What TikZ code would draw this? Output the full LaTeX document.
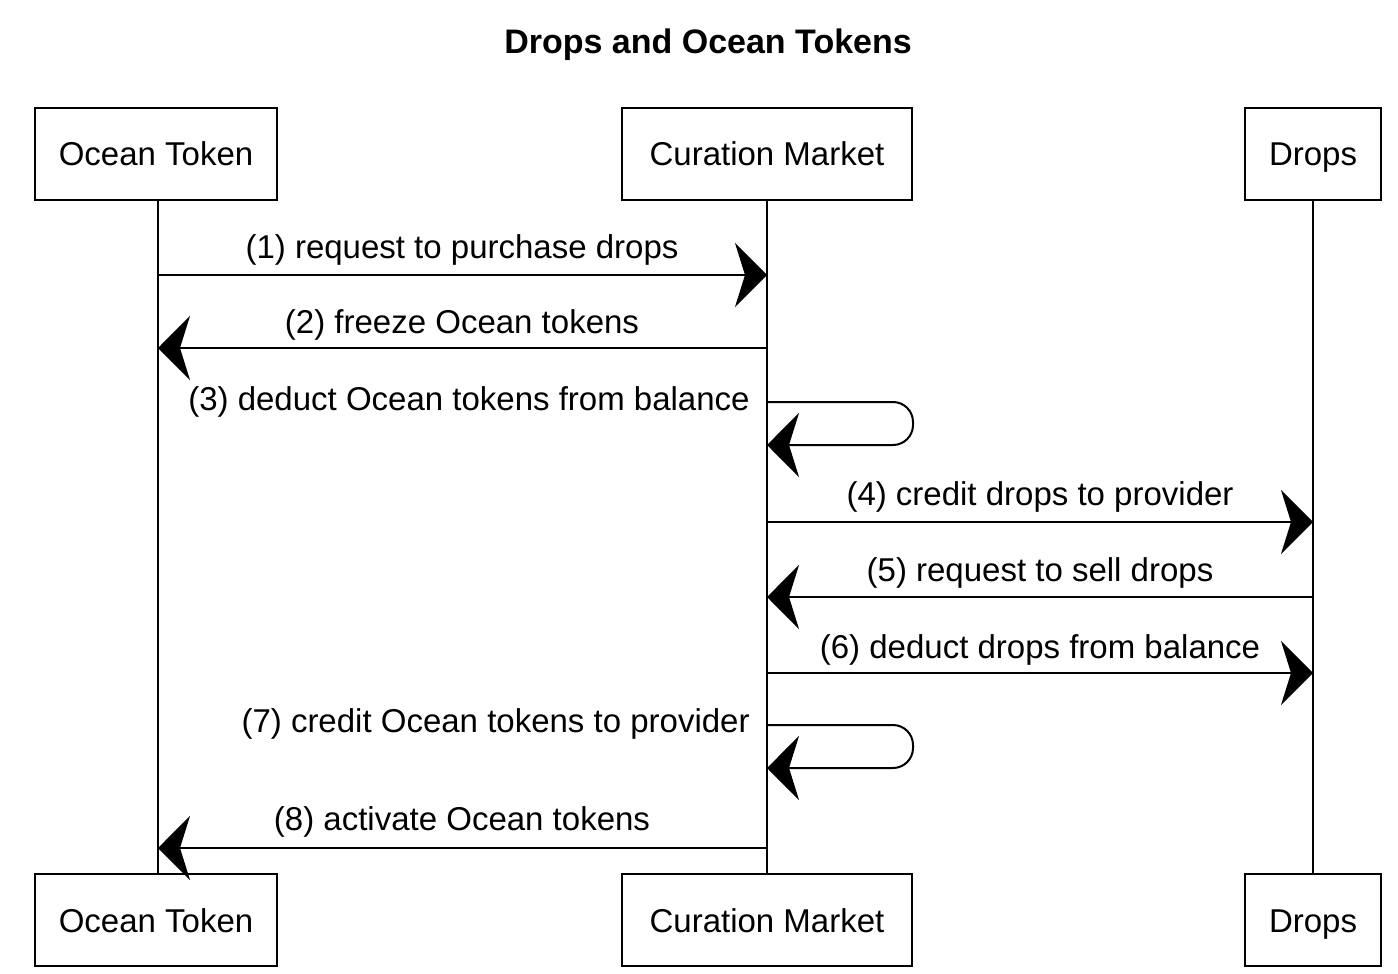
\documentclass[tikz,border=0pt]{standalone}
\usepackage{fontspec}
\setmainfont{Liberation Sans}
\usetikzlibrary{arrows.meta}
\begin{document}
\begin{tikzpicture}[x=0.5pt,y=-0.5pt,
  actor/.style={draw=black,line width=1pt,minimum width=#1,minimum height=46pt,inner sep=0pt,text height=12pt,text depth=0pt,font=\fontsize{16.5}{19}\selectfont},
  life/.style={line width=0.6pt},
  msg/.style={line width=1pt,-{Stealth[length=16pt,width=32pt,inset=5pt]}},
  lbl/.style={font=\fontsize{16.5}{19}\selectfont,inner sep=1pt}]
\useasboundingbox (0,0) rectangle (1398,974);
\node[font=\fontsize{17}{20}\selectfont\bfseries] (title) at (708,45) {Drops and Ocean Tokens};
% top actors
\node[actor=121pt] (ot1) at (156,154) {Ocean Token};
\node[actor=145pt] (cm1) at (767,154) {Curation Market};
\node[actor=68pt] (dr1) at (1313,154) {Drops};
% bottom actors
\node[actor=121pt] (ot2) at (156,920) {Ocean Token};
\node[actor=145pt] (cm2) at (767,920) {Curation Market};
\node[actor=68pt] (dr2) at (1313,920) {Drops};
% lifelines
\draw[life] (ot1.south) ++(2,0) -- ([xshift=1pt]ot2.north);
\draw[life] (cm1.south) -- (cm2.north);
\draw[life] (dr1.south) -- (dr2.north);
% coordinates on lifelines
\coordinate (a1) at (158,275); \coordinate (b1) at (767,275);
\coordinate (a2) at (158,348); \coordinate (b2) at (767,348);
\coordinate (b3s) at (767,402); \coordinate (b3e) at (767,445);
\coordinate (b4) at (767,522); \coordinate (c4) at (1313,522);
\coordinate (b5) at (767,597); \coordinate (c5) at (1313,597);
\coordinate (b6) at (767,673); \coordinate (c6) at (1313,673);
\coordinate (b7s) at (767,725); \coordinate (b7e) at (767,768);
\coordinate (a8) at (158,848); \coordinate (b8) at (767,848);
% messages
\draw[msg] (a1) -- (b1);
\node[lbl] (l1) at (462,250) {(1) request to purchase drops};
\draw[msg] (b2) -- (a2);
\node[lbl] (l2) at (462,325) {(2) freeze Ocean tokens};
\draw[msg,rounded corners=10pt] (b3s) -- (913,402) -- (913,445) -- (b3e);
\node[lbl,anchor=east] (l3) at (752,402) {(3) deduct Ocean tokens from balance};
\draw[msg] (b4) -- (c4);
\node[lbl] (l4) at (1040,497) {(4) credit drops to provider};
\draw[msg] (c5) -- (b5);
\node[lbl] (l5) at (1040,573) {(5) request to sell drops};
\draw[msg] (b6) -- (c6);
\node[lbl] (l6) at (1040,650) {(6) deduct drops from balance};
\draw[msg,rounded corners=10pt] (b7s) -- (913,725) -- (913,768) -- (b7e);
\node[lbl,anchor=east] (l7) at (752,724) {(7) credit Ocean tokens to provider};
\draw[msg] (b8) -- (a8);
\node[lbl] (l8) at (462,822) {(8) activate Ocean tokens};
\end{tikzpicture}
\end{document}
